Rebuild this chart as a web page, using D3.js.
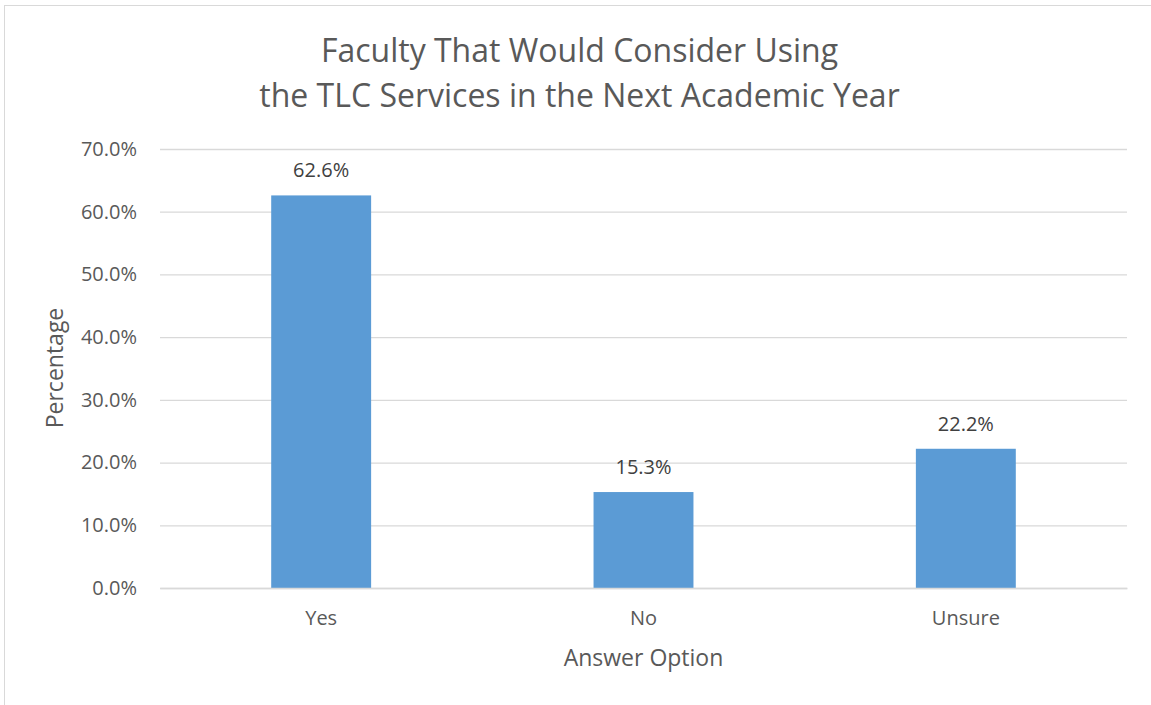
<!DOCTYPE html>
<html>
<head>
<meta charset="utf-8">
<script src="https://cdn.jsdelivr.net/npm/d3@7"></script>
<style>
  body { margin: 0; background: #fff; }
  svg { display: block; font-family: "Open Sans", "Noto Sans", sans-serif; }
</style>
</head>
<body>
<svg id="chart" width="1151" height="705"></svg>
<script>
// Survey answers and their shares (percent)
const categories = ["Yes", "No", "Unsure"];
const values = [62.6, 15.3, 22.2];
const yTicks = [0, 10, 20, 30, 40, 50, 60, 70];
const titleLines = ["Faculty That Would Consider Using", "the TLC Services in the Next Academic Year"];
const xTitle = "Answer Option";
const yTitle = "Percentage";

const svg = d3.select("#chart");
const textColor = "#595959";
const gridColor = "#d9d9d9";
const barColor = "#5b9bd5";

// Chart frame
svg.append("rect")
  .attr("x", 4.5).attr("y", 5.5)
  .attr("width", 1160).attr("height", 710)
  .attr("fill", "#fff").attr("stroke", "#d9d9d9").attr("stroke-width", 1);

const plot = { left: 160, right: 1127, top: 149, bottom: 588 };

const x = d3.scaleBand()
  .domain(categories)
  .range([plot.left, plot.right])
  .paddingInner(0.69)
  .paddingOuter(0.345);

const y = d3.scaleLinear()
  .domain([0, 70])
  .range([plot.bottom, plot.top]);

// Title
svg.append("g").selectAll("text")
  .data(titleLines)
  .join("text")
  .attr("x", 579.5)
  .attr("y", (d, i) => 62 + i * 45)
  .attr("text-anchor", "middle")
  .attr("fill", textColor)
  .style("font-size", "32px")
  .text(d => d);

// Gridlines and y tick labels
const yAxis = d3.axisLeft(y)
  .tickValues(yTicks)
  .tickSize(-(plot.right - plot.left))
  .tickPadding(23)
  .tickFormat(d => d.toFixed(1) + "%");

const gy = svg.append("g")
  .attr("transform", `translate(${plot.left},0)`)
  .call(yAxis);
gy.select(".domain").remove();
gy.selectAll(".tick line").attr("stroke", gridColor).attr("stroke-width", 1.3);
gy.selectAll(".tick text")
  .attr("fill", textColor)
  .style("font-size", "20px")
  .style("font-family", "'Open Sans', sans-serif");

// Bars
svg.append("g").selectAll("rect")
  .data(categories.map((c, i) => ({ c, v: values[i] })))
  .join("rect")
  .attr("x", d => x(d.c))
  .attr("width", x.bandwidth())
  .attr("y", d => y(d.v))
  .attr("height", d => y(0) - y(d.v))
  .attr("fill", barColor);

// Value labels
svg.append("g").selectAll("text")
  .data(categories.map((c, i) => ({ c, v: values[i] })))
  .join("text")
  .attr("x", d => x(d.c) + x.bandwidth() / 2)
  .attr("y", d => y(d.v) - 18)
  .attr("text-anchor", "middle")
  .attr("fill", "#404040")
  .style("font-size", "20px")
  .text(d => d.v.toFixed(1) + "%");

// X category labels
const xAxis = d3.axisBottom(x).tickSize(0).tickPadding(23);
const gx = svg.append("g")
  .attr("transform", `translate(0,${plot.bottom})`)
  .call(xAxis);
gx.select(".domain").attr("stroke", gridColor).attr("stroke-width", 1.3);
gx.selectAll(".tick text")
  .attr("fill", textColor)
  .style("font-size", "20px")
  .style("font-family", "'Open Sans', sans-serif");

// Axis titles
svg.append("text")
  .attr("x", (plot.left + plot.right) / 2)
  .attr("y", 666)
  .attr("text-anchor", "middle")
  .attr("fill", textColor)
  .style("font-size", "23px")
  .text(xTitle);

svg.append("text")
  .attr("transform", `translate(63,368) rotate(-90)`)
  .attr("text-anchor", "middle")
  .attr("fill", textColor)
  .style("font-size", "23px")
  .text(yTitle);
</script>
</body>
</html>
